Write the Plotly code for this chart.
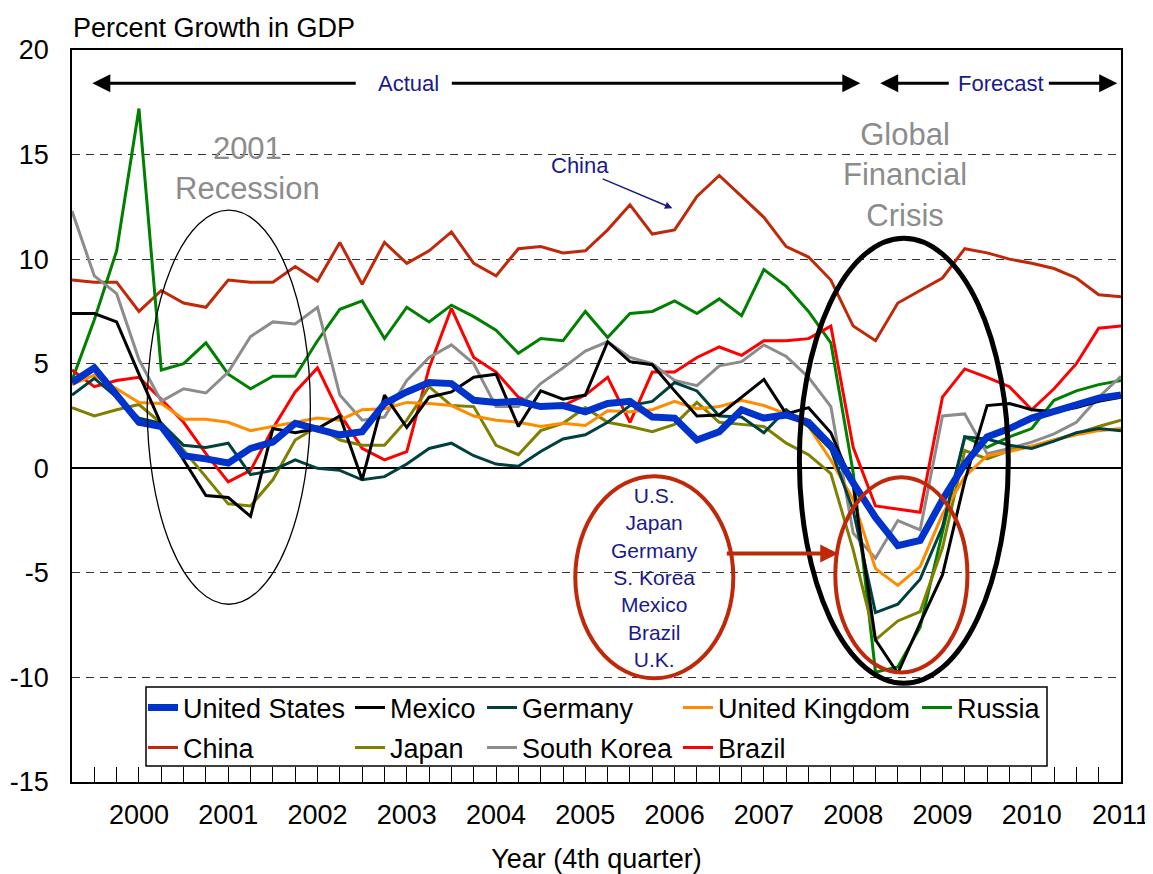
import plotly.graph_objects as go

# ---------------- data (quarterly, 2000Q1 .. 2011Q4) ----------------
quarters = list(range(48))
year_labels = ["2000", "2001", "2002", "2003", "2004", "2005",
               "2006", "2007", "2008", "2009", "2010", "2011"]
y_tick_values = [-15, -10, -5, 0, 5, 10, 15, 20]
y_tick_labels = ["-15", "-10", "-5", "0", "5", "10", "15", "20"]

united_states = [4.1, 4.8, 3.5, 2.2, 2.0, 0.6, 0.45, 0.25, 0.95, 1.25,
                 2.15, 1.9, 1.6, 1.75, 3.1, 3.65, 4.1, 4.05, 3.25, 3.15,
                 3.2, 2.95, 3.0, 2.7, 3.1, 3.2, 2.45, 2.4, 1.35, 1.75,
                 2.8, 2.4, 2.55, 2.2, 1.1, -0.7, -2.35, -3.7, -3.45, -1.5,
                 0.2, 1.5, 1.9, 2.4, 2.7, 3.0, 3.35, 3.5]
mexico = [7.4, 7.4, 7.0, 4.5, 2.1, 0.4, -1.3, -1.4, -2.3, 1.9,
          1.7, 1.9, 2.5, -0.55, 3.5, 1.95, 3.4, 3.65, 4.35, 4.5,
          2.0, 3.7, 3.3, 3.5, 6.05, 5.1, 4.95, 3.7, 2.5, 2.55,
          3.4, 4.25, 2.6, 2.9, 1.7, -0.8, -8.2, -9.8, -7.4, -5.1,
          -0.6, 3.0, 3.1, 2.8, 2.7, 2.9, 3.2, 3.4]
germany = [3.5, 4.3, 3.4, 2.4, 2.15, 1.1, 1.0, 1.2, -0.3, -0.1,
           0.4, 0.0, -0.1, -0.55, -0.4, 0.2, 0.95, 1.2, 0.6, 0.2,
           0.1, 0.8, 1.4, 1.6, 2.2, 3.0, 3.2, 4.1, 3.7, 2.5,
           2.45, 1.7, 2.8, 2.0, 0.9, -2.0, -6.9, -6.5, -5.3, -2.8,
           1.5, 1.4, 1.1, 0.95, 1.3, 1.7, 1.9, 1.8]
united_kingdom = [4.0, 4.45, 3.8, 3.15, 3.1, 2.35, 2.35, 2.2, 1.8, 2.0,
                  2.2, 2.4, 2.3, 2.8, 2.85, 3.15, 3.1, 3.0, 2.5, 2.3,
                  2.2, 2.0, 2.15, 2.05, 2.75, 2.7, 2.8, 3.2, 2.85, 2.95,
                  3.25, 3.0, 2.6, 2.0, 0.4, -1.5, -4.8, -5.6, -4.7, -2.2,
                  -0.4, 0.6, 0.8, 1.05, 1.35, 1.6, 1.8, 1.9]
russia = [4.2, 7.1, 10.4, 17.2, 4.7, 5.0, 6.0, 4.5, 3.8, 4.4,
          4.4, 6.1, 7.6, 8.0, 6.2, 7.7, 7.0, 7.8, 7.25, 6.6,
          5.5, 6.2, 6.1, 7.5, 6.25, 7.4, 7.5, 8.0, 7.4, 8.1,
          7.3, 9.5, 8.7, 7.5, 6.0, -0.2, -9.75, -9.5, -7.6, -3.0,
          1.5, 1.0, 1.5, 1.9, 3.25, 3.7, 4.0, 4.2]
china = [9.0, 8.9, 8.9, 7.5, 8.5, 7.9, 7.7, 9.0, 8.9, 8.9,
         9.65, 8.95, 10.8, 8.8, 10.8, 9.8, 10.4, 11.3, 9.8, 9.2,
         10.5, 10.6, 10.3, 10.4, 11.4, 12.6, 11.2, 11.4, 13.0, 14.0,
         13.0, 12.0, 10.6, 10.1, 9.0, 6.8, 6.1, 7.9, 8.5, 9.1,
         10.5, 10.3, 10.0, 9.8, 9.55, 9.1, 8.3, 8.2]
japan = [2.9, 2.5, 2.8, 3.05, 2.15, 0.85, -0.4, -1.7, -1.8, -0.55,
         1.35, 2.0, 1.35, 1.1, 1.1, 2.3, 3.9, 3.0, 2.95, 1.1,
         0.65, 1.8, 2.15, 2.9, 2.2, 2.0, 1.75, 2.1, 3.15, 2.2,
         2.1, 2.0, 1.2, 0.65, -0.25, -3.9, -8.2, -7.3, -6.85, -3.8,
         0.85, 0.45, 0.85, 1.05, 1.35, 1.65, 2.0, 2.3]
south_korea = [12.3, 9.2, 8.35, 5.2, 3.2, 3.8, 3.6, 4.6, 6.3, 7.0,
               6.9, 7.7, 3.5, 2.3, 2.45, 4.2, 5.3, 5.9, 5.0, 2.95,
               2.95, 4.05, 4.8, 5.6, 6.05, 5.3, 5.0, 4.2, 3.95, 4.9,
               5.1, 5.9, 5.35, 4.35, 2.95, -3.1, -4.3, -2.5, -2.95, 2.5,
               2.6, 0.7, 0.95, 1.25, 1.65, 2.2, 3.4, 4.4]
brazil = [4.7, 3.9, 4.2, 4.35, 3.3, 2.2, 0.7, -0.65, -0.1, 1.9,
          3.65, 4.8, 2.6, 0.95, 0.4, 0.8, 4.8, 7.65, 5.3, 4.6,
          3.4, 2.95, 3.0, 3.5, 4.35, 2.2, 4.6, 4.6, 5.3, 5.8,
          5.4, 6.1, 6.1, 6.2, 6.8, 1.0, -1.8, -1.95, -2.1, 3.4,
          4.75, 4.35, 3.9, 2.8, 3.8, 5.0, 6.7, 6.8]

# ---------------- styling ----------------
FONT = "Liberation Sans, Arial, sans-serif"
NAVY = "#1A1A8C"
GRAYTXT = "#8C8C8C"
BRICK = "#C0280A"
FS = 27  # main text size

# x positions of year labels (4th quarter of each year)
label_positions = [3 + 4 * k for k in range(len(year_labels))]
tick_text = []
for q in quarters:
    tick_text.append(year_labels[label_positions.index(q)] if q in label_positions else "")

# (name, values, color, width, legend id)   -- drawn in this order, US last (on top)
series = [
    ("China", china, BRICK, 3, "legend6"),
    ("Russia", russia, "#008000", 3, "legend5"),
    ("Brazil", brazil, "#FF0000", 3, "legend9"),
    ("South Korea", south_korea, "#8C8C8C", 3, "legend8"),
    ("Japan", japan, "#808000", 3, "legend7"),
    ("United Kingdom", united_kingdom, "#FF8C00", 3, "legend4"),
    ("Germany", germany, "#004040", 3, "legend3"),
    ("Mexico", mexico, "#000000", 3, "legend2"),
    ("United States", united_states, "#0033CC", 7, "legend"),
]

fig = go.Figure()
for name, vals, color, width, leg in series:
    fig.add_trace(go.Scatter(
        x=quarters, y=vals, mode="lines", name=name,
        line=dict(color=color, width=width),
        legend=leg, showlegend=True, hoverinfo="skip",
    ))

# The page body has an 8px margin, so the figure starts at (8, 8) on the page.
OFF = 8
W, H = 1153 - OFF, 874 - OFF
PAGE_L, PAGE_R, PAGE_T, PAGE_B = 72, 1121, 50, 782     # plot area on the page
L, R = PAGE_L - OFF, W - (PAGE_R - OFF)
T, B = PAGE_T - OFF, H - (PAGE_B - OFF)
PW, PH = PAGE_R - PAGE_L, PAGE_B - PAGE_T


def px_x(px):
    return (px - PAGE_L) / PW


def px_y(py):
    return (PAGE_B - py) / PH


legend_specs = {
    "legend": (143, 708), "legend2": (350, 708), "legend3": (482, 708),
    "legend4": (678, 708), "legend5": (917, 708),
    "legend6": (143, 748), "legend7": (350, 748), "legend8": (482, 748),
    "legend9": (678, 748),
}
legend_layout = {}
for key, (lx, ly) in legend_specs.items():
    legend_layout[key] = dict(
        x=px_x(lx), y=px_y(ly), xanchor="left", yanchor="middle",
        bgcolor="rgba(0,0,0,0)", borderwidth=0,
        font=dict(family=FONT, size=FS, color="black"),
    )

shapes = [
    # legend frame
    dict(type="rect", xref="paper", yref="paper",
         x0=px_x(146), x1=px_x(1047), y0=px_y(766), y1=px_y(687),
         line=dict(color="black", width=1.5), fillcolor="white", layer="below"),
    # 2001 recession ellipse
    dict(type="circle", xref="x", yref="y", x0=3.37, x1=10.68, y0=-6.5, y1=12.34,
         line=dict(color="black", width=1.3)),
    # global financial crisis ellipse
    dict(type="circle", xref="x", yref="y", x0=32.59, x1=41.95, y0=-10.28, y1=11.0,
         line=dict(color="black", width=5)),
    # inner red ellipse around the dips
    dict(type="circle", xref="x", yref="y", x0=34.2, x1=40.12, y0=-9.76, y1=-0.43,
         line=dict(color=BRICK, width=4)),
    # ellipse around the country list
    dict(type="circle", xref="x", yref="y", x0=22.55, x1=29.63, y0=-10.04, y1=-0.38,
         line=dict(color=BRICK, width=4)),
]


def arrow(x_head, y_head, x_tail, y_tail, color, width, size=1.0, head=2):
    return dict(x=x_head, y=y_head, ax=x_tail, ay=y_tail,
                xref="x", yref="y", axref="x", ayref="y",
                text="", showarrow=True, arrowhead=head, arrowsize=size,
                arrowwidth=width, arrowcolor=color)


annotations = [
    # Actual / Forecast arrows
    arrow(0.91, 18.41, 12.78, 18.41, "black", 3, 1.2),
    arrow(35.32, 18.41, 16.95, 18.41, "black", 3, 1.2),
    dict(x=15.07, y=18.41, xref="x", yref="y", text="Actual", showarrow=False,
         font=dict(family=FONT, size=22, color=NAVY)),
    arrow(36.21, 18.41, 39.35, 18.41, "black", 3, 1.2),
    arrow(46.83, 18.41, 43.7, 18.41, "black", 3, 1.2),
    dict(x=41.63, y=18.41, xref="x", yref="y", text="Forecast", showarrow=False,
         font=dict(family=FONT, size=22, color=NAVY)),
    # gray headings
    dict(x=7.87, y=14.35, xref="x", yref="y", text="2001<br>Recession", showarrow=False,
         font=dict(family=FONT, size=31, color=GRAYTXT)),
    dict(x=37.33, y=14.0, xref="x", yref="y", text="Global<br>Financial<br>Crisis",
         showarrow=False, font=dict(family=FONT, size=31, color=GRAYTXT)),
    # China label + arrow
    dict(x=22.77, y=14.49, xref="x", yref="y", text="China", showarrow=False,
         font=dict(family=FONT, size=22, color=NAVY)),
    arrow(26.9, 12.43, 23.71, 13.87, NAVY, 1.5, 1.0),
    # country list
    dict(x=26.09, y=-5.24, xref="x", yref="y",
         text="U.S.<br>Japan<br>Germany<br>S. Korea<br>Mexico<br>Brazil<br>U.K.",
         showarrow=False, font=dict(family=FONT, size=21, color=NAVY)),
    arrow(34.33, -4.07, 29.27, -4.07, BRICK, 4, 0.9),
]

fig.update_layout(
    width=W, height=H,
    margin=dict(l=L, r=R, t=T, b=B, autoexpand=False),
    paper_bgcolor="white", plot_bgcolor="white",
    font=dict(family=FONT, size=FS, color="black"),
    title=dict(text="Percent Growth in GDP", x=(73 - OFF) / W, xanchor="left",
               y=1 - (28 - OFF) / H, yanchor="middle", automargin=False,
               font=dict(family=FONT, size=FS, color="black")),
    xaxis=dict(range=[0, 47], tickmode="array", tickvals=quarters, ticktext=tick_text,
               ticks="inside", ticklen=15, tickwidth=1, tickcolor="black",
               showline=True, linecolor="black", linewidth=1.5, mirror=True,
               showgrid=False, zeroline=False, ticklabelstandoff=8, automargin=False,
               tickfont=dict(family=FONT, size=FS, color="black"),
               title=dict(text="Year (4th quarter)", standoff=22,
                          font=dict(family=FONT, size=FS, color="black"))),
    yaxis=dict(range=[-15, 20], tickmode="array", tickvals=y_tick_values,
               ticktext=y_tick_labels, ticks="", ticklabelstandoff=16, automargin=False,
               showline=True, linecolor="black", linewidth=1.5, mirror=True,
               showgrid=True, gridcolor="#333333", gridwidth=1, griddash="8px,6px",
               zeroline=True, zerolinecolor="black", zerolinewidth=1.5,
               tickfont=dict(family=FONT, size=FS, color="black")),
    shapes=shapes,
    annotations=annotations,
    showlegend=True,
    **legend_layout,
)

fig.write_html("out.html")
